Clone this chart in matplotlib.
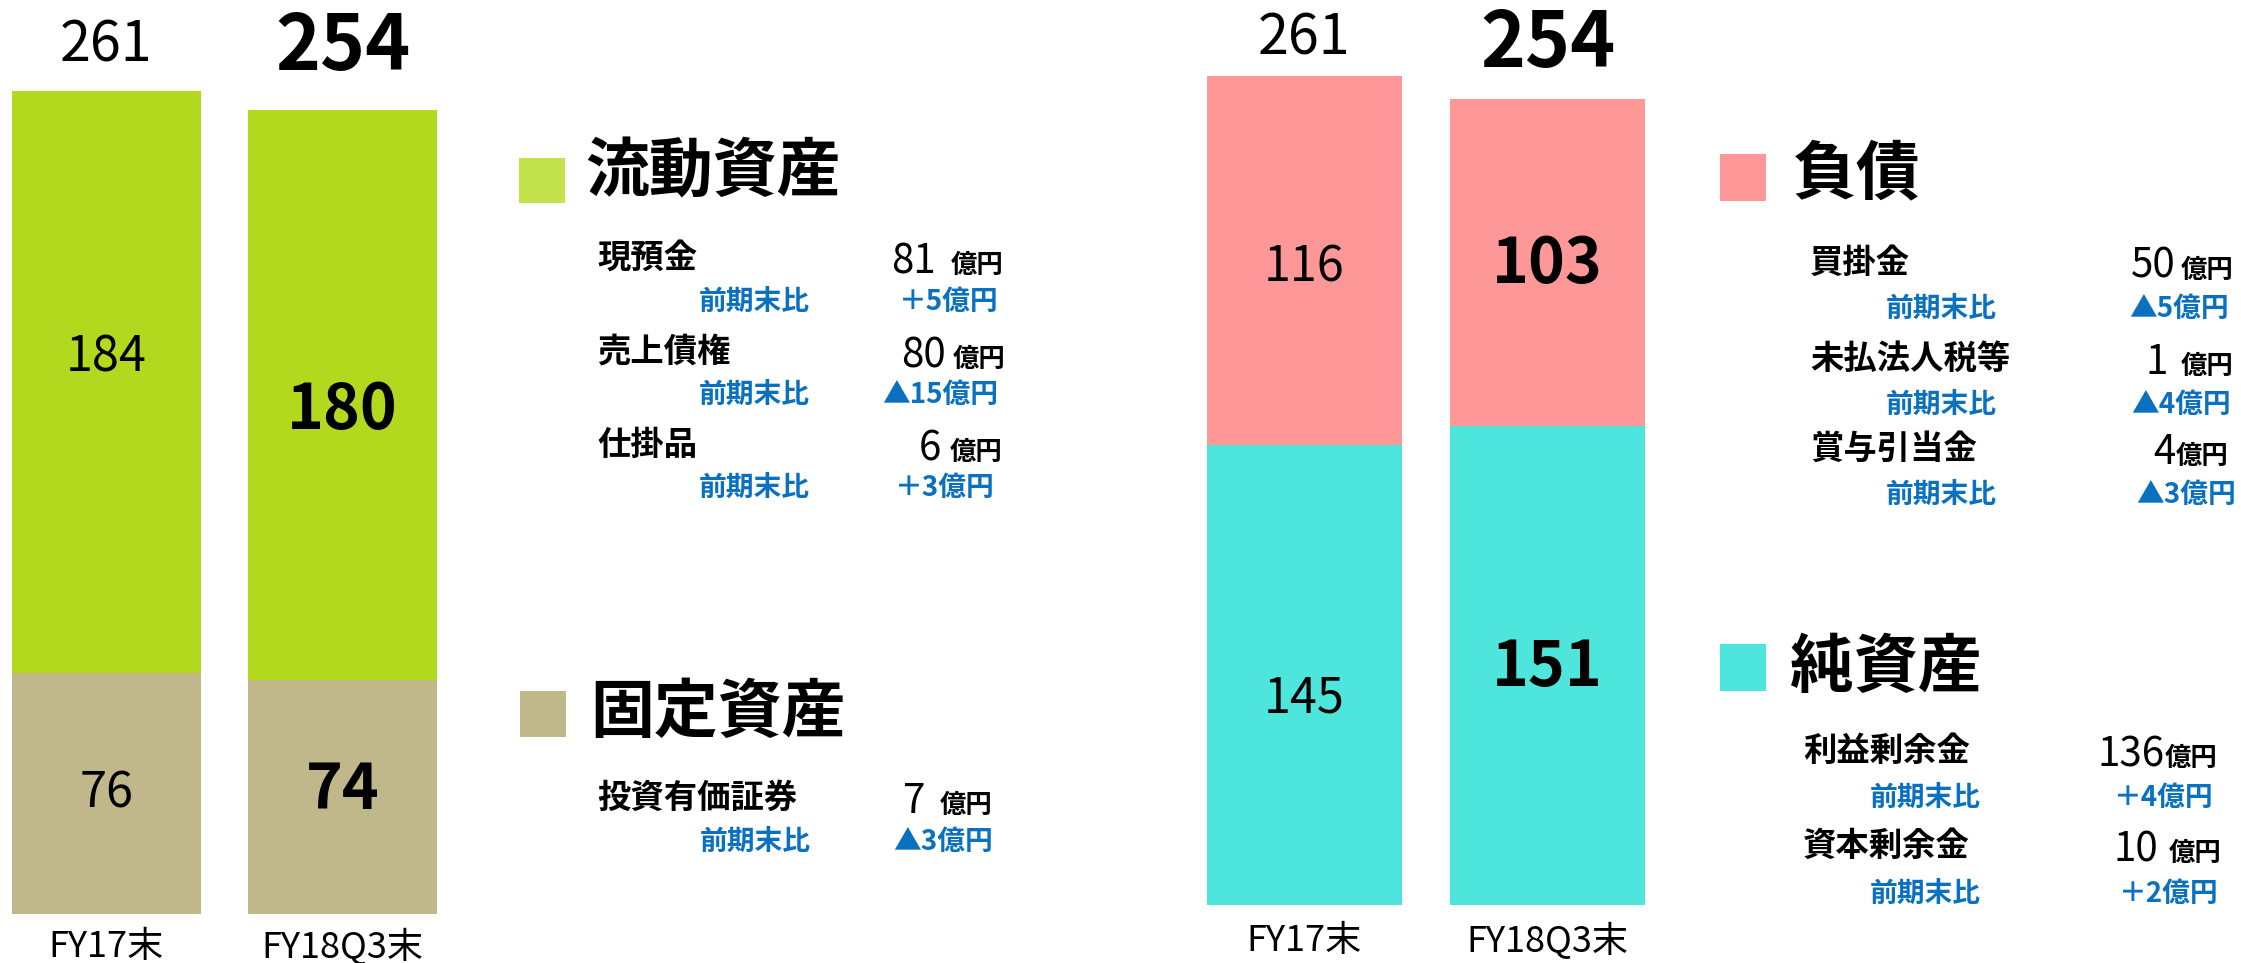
import matplotlib
matplotlib.use("Agg")
import matplotlib.pyplot as plt
from matplotlib.patches import Rectangle

plt.rcParams['font.family'] = ['Noto Sans CJK JP', 'DejaVu Sans']

# ---------------- data ----------------
categories = ['FY17末', 'FY18Q3末']

# assets (left)
fixed_assets = [76, 74]
current_assets = [184, 180]
asset_totals = [261, 254]

# liabilities & equity (right)
net_assets = [145, 151]
liabilities = [116, 103]
le_totals = [261, 254]

current_items = ['現預金', '売上債権', '仕掛品']
current_values = [81, 80, 6]
current_changes = ['＋5', '▲15', '＋3']

fixed_items = ['投資有価証券']
fixed_values = [7]
fixed_changes = ['▲3']

liab_items = ['買掛金', '未払法人税等', '賞与引当金']
liab_values = [50, 1, 4]
liab_changes = ['▲5', '▲4', '▲3']

equity_items = ['利益剰余金', '資本剰余金']
equity_values = [136, 10]
equity_changes = ['＋4', '＋2']

# ---------------- style ----------------
GREEN = '#b3d91f'
GREEN_SQ = '#c3e24b'
TAN = '#c0b88a'
PINK = '#fe9898'
CYAN = '#4ee6dc'
BLUE = '#0a70c0'

W, H = 2241, 963
fig = plt.figure(figsize=(W / 100, H / 100), dpi=100)


def fx(px):
    return px / W


def fy(py):
    return 1 - py / H


def make_axes(x0, x1, base, scale):
    ax = fig.add_axes([fx(x0), fy(base), (x1 - x0) / W, base / H])
    ax.set_xlim(-0.4, 1.4)
    ax.set_ylim(0, base / scale)
    ax.axis('off')
    return ax


def bar_panel(ax, bottom_vals, top_vals, totals, c_bottom, c_top,
              bottom_off, top_off, total_off, cat_off):
    xs = list(range(len(categories)))
    ax.bar(xs, bottom_vals, width=0.8, color=c_bottom)
    ax.bar(xs, top_vals, width=0.8, bottom=bottom_vals, color=c_top)
    for i, x in enumerate(xs):
        bold = (i == 1)
        fs_in = 45 if bold else 35
        fw = 'bold' if bold else 'normal'
        ax.annotate(str(bottom_vals[i]), (x, bottom_vals[i] / 2),
                    xytext=(0, bottom_off[i]), textcoords='offset pixels',
                    ha='center', va='center', fontsize=fs_in, fontweight=fw)
        ax.annotate(str(top_vals[i]), (x, bottom_vals[i] + top_vals[i] / 2),
                    xytext=(0, top_off[i]), textcoords='offset pixels',
                    ha='center', va='center', fontsize=fs_in, fontweight=fw)
        ax.annotate(str(totals[i]), (x, bottom_vals[i] + top_vals[i]),
                    xytext=(0, total_off[i]), textcoords='offset pixels',
                    ha='center', va='center',
                    fontsize=55 if bold else 40, fontweight=fw)
        ax.annotate(categories[i], (x, 0), xytext=(0, -cat_off),
                    textcoords='offset pixels', ha='center', va='center',
                    fontsize=26)


ax_l = make_axes(12, 437, 914, 3.167)
bar_panel(ax_l, fixed_assets, current_assets, asset_totals, TAN, GREEN,
          bottom_off=[0, 6], top_off=[24, -16], total_off=[45, 62], cat_off=33)

ax_r = make_axes(1207, 1645, 905, 3.175)
bar_panel(ax_r, net_assets, liabilities, le_totals, CYAN, PINK,
          bottom_off=[-24, -2], top_off=[-7, -2], total_off=[38, 54], cat_off=36)


def section(title, color, items, values, changes, lay):
    sx, sy, sw, sh = lay['square']
    fig.add_artist(Rectangle((fx(sx), fy(sy + sh)), sw / W, sh / H,
                             transform=fig.transFigure, color=color, lw=0))
    fig.text(fx(lay['title_x']), fy(lay['title_y']), title, fontsize=46,
             fontweight='bold', ha='left', va='center')
    unit_fs = 19
    unit_w = 2 * unit_fs / 0.72
    for i, name in enumerate(items):
        iy = lay['item_y'][i]
        fig.text(fx(lay['item_x']), fy(iy), name, fontsize=24,
                 fontweight='bold', ha='left', va='center')
        vr = lay['val_right'][i]
        fig.text(fx(vr), fy(iy + 15), '億円', fontsize=unit_fs,
                 fontweight='bold', ha='right', va='baseline')
        fig.text(fx(vr - unit_w - lay['gap'][i]), fy(iy + 15), str(values[i]),
                 fontsize=29, fontweight='normal', ha='right', va='baseline')
        cy = lay['cmp_y'][i]
        fig.text(fx(lay['cmp_x']), fy(cy), '前期末比', fontsize=20,
                 fontweight='bold', color=BLUE, ha='left', va='center')
        fig.text(fx(lay['chg_right'][i]), fy(cy), changes[i] + '億円',
                 fontsize=20, fontweight='bold', color=BLUE,
                 ha='right', va='center')


section('流動資産', GREEN_SQ, current_items, current_values, current_changes,
        dict(square=(519, 158, 46, 45), title_x=585, title_y=173, item_x=597,
             item_y=[258, 352, 445], cmp_x=699, cmp_y=[302, 395, 488],
             val_right=[1003, 1005, 1002], chg_right=[999, 998, 995],
             gap=[14, 6, 8]))

section('固定資産', TAN, fixed_items, fixed_values, fixed_changes,
        dict(square=(520, 691, 46, 46), title_x=590, title_y=713, item_x=597,
             item_y=[798], cmp_x=700, cmp_y=[842],
             val_right=[992], chg_right=[993], gap=[14]))

section('負債', PINK, liab_items, liab_values, liab_changes,
        dict(square=(1720, 154, 46, 47), title_x=1793, title_y=175, item_x=1810,
             item_y=[263, 359, 449], cmp_x=1886, cmp_y=[309, 405, 495],
             val_right=[2233, 2233, 2228], chg_right=[2229, 2231, 2236],
             gap=[5, 12, 0]))

section('純資産', CYAN, equity_items, equity_values, equity_changes,
        dict(square=(1720, 644, 46, 47), title_x=1790, title_y=668, item_x=1803,
             item_y=[751, 846], cmp_x=1870, cmp_y=[798, 894],
             val_right=[2217, 2221], chg_right=[2214, 2219], gap=[0, 10]))

fig.savefig('out.png', dpi=100, facecolor='white')
